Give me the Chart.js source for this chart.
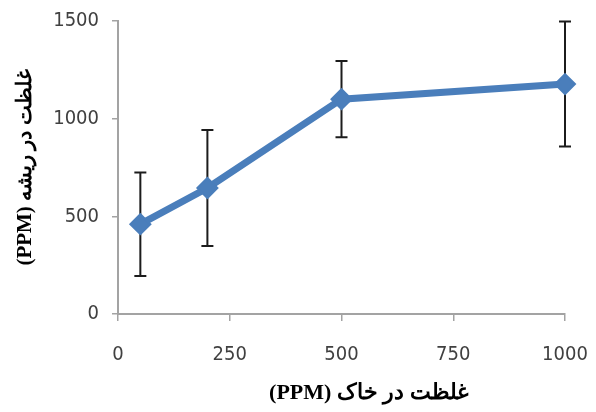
<!DOCTYPE html>
<html>
<head>
<meta charset="utf-8">
<script src="https://cdn.jsdelivr.net/npm/chart.js@4.4.1/dist/chart.umd.min.js"></script>
<style>
  body { margin: 0; background: #fff; }
  canvas { display: block; }
</style>
</head>
<body>
<canvas id="soilChart" width="596" height="412" dir="rtl"></canvas>
<script>
// concentration in soil (x) vs concentration in root (y), with error bars
const soilPpm = [50, 200, 500, 1000];
const rootPpm = [460, 645, 1100, 1177];
const rootErr = [265, 297, 195, 320];
const xTicks = [0, 250, 500, 750, 1000];
const yTicks = [0, 500, 1000, 1500];

const xTitle = "غلظت در خاک (PPM)";
const yTitle = "غلظت در ریشه (PPM)";

const lineBlue = "#4a7ebb";
const axisGray = "#a3a3a3";
const tickFont = { family: "'DejaVu Sans Condensed', 'Liberation Sans', Arial", size: 20 };

const points = soilPpm.map((x, i) => ({ x: x, y: rootPpm[i] }));

// error bars go under the line and diamonds
const errorBars = {
  id: "errorBars",
  beforeDatasetsDraw(chart) {
    const ctx = chart.ctx;
    const xs = chart.scales.x;
    const ys = chart.scales.y;
    ctx.save();
    ctx.strokeStyle = "#1c1c1c";
    ctx.lineWidth = 2;
    soilPpm.forEach((v, i) => {
      const px = xs.getPixelForValue(v);
      const top = ys.getPixelForValue(rootPpm[i] + rootErr[i]);
      const bot = ys.getPixelForValue(rootPpm[i] - rootErr[i]);
      ctx.beginPath();
      ctx.moveTo(px, top);
      ctx.lineTo(px, bot);
      ctx.moveTo(px - 6, top);
      ctx.lineTo(px + 6, top);
      ctx.moveTo(px - 6, bot);
      ctx.lineTo(px + 6, bot);
      ctx.stroke();
    });
    ctx.restore();
  }
};

// x title sits a bit right of the plot centre in the original
const xAxisTitle = {
  id: "xAxisTitle",
  afterDraw(chart) {
    const ctx = chart.ctx;
    ctx.save();
    ctx.font = "bold 22px 'Liberation Serif', 'Times New Roman', serif";
    ctx.fillStyle = "#000";
    ctx.textAlign = "center";
    ctx.textBaseline = "middle";
    ctx.fillText(xTitle, 369, 393);
    ctx.restore();
  }
};

new Chart(document.getElementById("soilChart"), {
  type: "line",
  data: {
    datasets: [{
      data: points,
      borderColor: lineBlue,
      backgroundColor: lineBlue,
      borderWidth: 7,
      pointStyle: "rectRot",
      pointRadius: 10,
      pointBorderWidth: 2,
      pointBorderColor: lineBlue,
      pointBackgroundColor: lineBlue,
      tension: 0,
      clip: false
    }]
  },
  options: {
    responsive: false,
    animation: false,
    layout: { padding: 0 },
    plugins: { legend: { display: false }, tooltip: { enabled: false } },
    scales: {
      x: {
        type: "linear",
        min: 0,
        max: 1000,
        afterBuildTicks: s => { s.ticks = xTicks.map(v => ({ value: v })); },
        afterFit: s => { s.height = 98; s.paddingLeft = 0; s.paddingRight = 31; },
        border: { color: axisGray, width: 2 },
        grid: { drawOnChartArea: false, color: axisGray, lineWidth: 1.5, tickLength: 7 },
        ticks: { color: "#404040", font: tickFont, padding: 22, maxRotation: 0, callback: v => String(v) }
      },
      y: {
        min: 0,
        max: 1500,
        afterBuildTicks: s => { s.ticks = yTicks.map(v => ({ value: v })); },
        afterFit: s => { s.width = 118; s.paddingTop = 21; s.paddingBottom = 0; },
        border: { color: axisGray, width: 2 },
        grid: { drawOnChartArea: false, color: axisGray, lineWidth: 1.5, tickLength: 6 },
        ticks: { color: "#404040", font: tickFont, padding: 13, callback: v => String(v) },
        title: {
          display: true,
          text: yTitle,
          color: "#000",
          font: { family: "'Liberation Serif', 'Times New Roman', serif", size: 21, weight: "bold", lineHeight: 1.2 },
          padding: { top: 13, bottom: 0 }
        }
      }
    }
  },
  plugins: [errorBars, xAxisTitle]
});
</script>
</body>
</html>
